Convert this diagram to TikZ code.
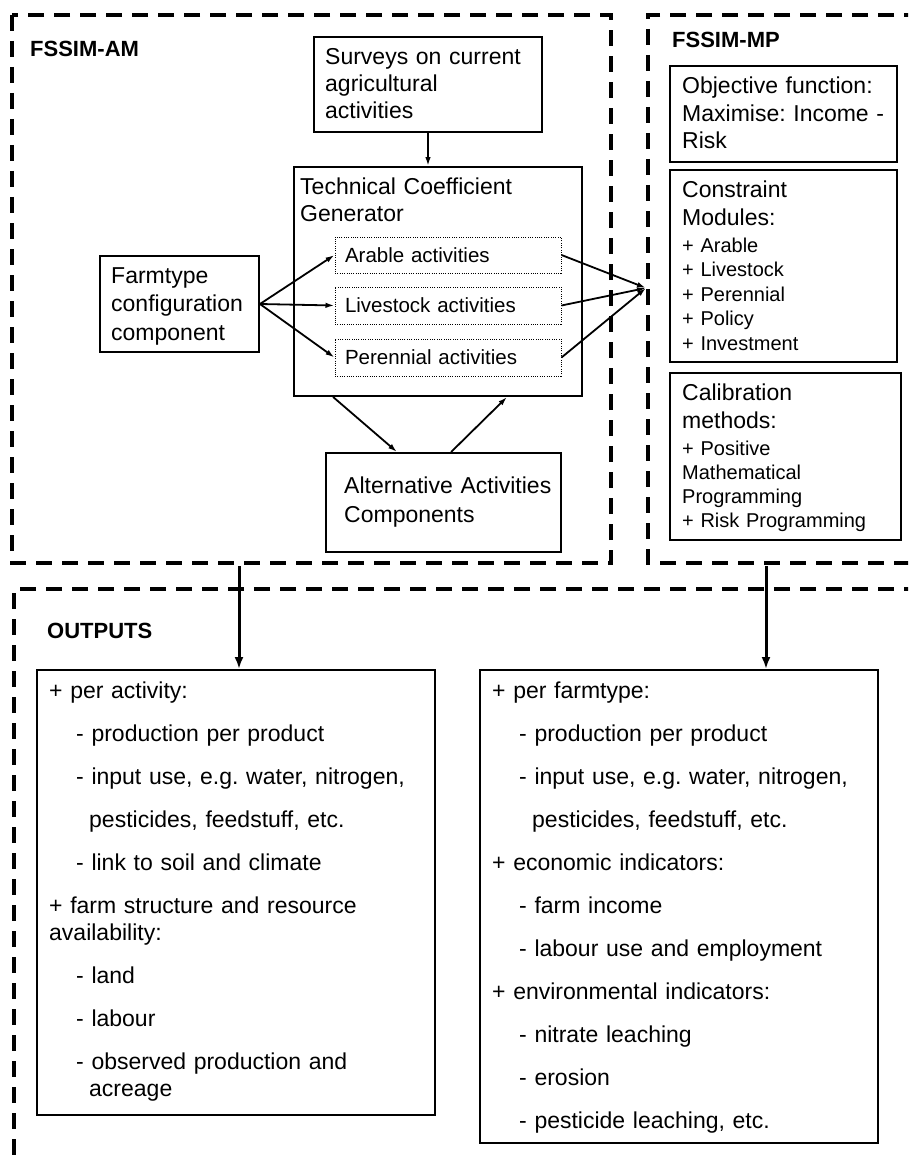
\documentclass[tikz,border=0pt]{standalone}
\usepackage{fontspec}
\setmainfont{Liberation Sans}
\usetikzlibrary{arrows.meta,calc}
\frenchspacing
\begin{document}
\begin{tikzpicture}[x=1pt,y=-1pt,
  frame/.style={line width=3.6pt,dash pattern=on 16pt off 10pt},
  box/.style={draw,line width=1.9pt,inner sep=0pt},
  dotbox/.style={draw,line width=1pt,dash pattern=on 1pt off 1.3pt,inner xsep=10pt,inner ysep=0pt,text width=206pt,align=left,font=\fontsize{20.5}{24}\selectfont},
  big/.style={font=\fontsize{23}{27}\selectfont},
  small/.style={font=\fontsize{20}{24.5}\selectfont},
  ttl/.style={font=\fontsize{22}{26}\selectfont\bfseries},
  txt/.style={anchor=base west,inner sep=0pt,align=left},
  arr/.style={-{Latex[length=9pt,width=5.5pt]},line width=1.8pt},
  bigarr/.style={-{Latex[length=12pt,width=9pt]},line width=3pt}
]
\clip (0,0) rectangle (908,1161);
\fill[white] (0,0) rectangle (908,1161);

% dashed frames
\draw[frame] (12,15) rectangle (611,563);
\draw[frame] (920,15) -- (648,15) -- (648,563) -- (920,563);
\draw[frame] (920,589) -- (14,589) -- (14,1175);

% titles
\node[txt,ttl] (amT) at (30,57) {FSSIM-AM};
\node[txt,ttl] (mpT) at (672,48) {FSSIM-MP};
\node[txt,ttl] (outT) at (47,638) {OUTPUTS};

% FSSIM-AM boxes
\node[box,minimum width=228pt,minimum height=95pt] (surveys) at (428,84.5) {};
\node[txt,big,text width=215pt] (surveysT) at (325,65) {Surveys on current\\agricultural\\activities};

\node[box,minimum width=288pt,minimum height=229pt] (tcg) at (438,281.5) {};
\node[txt,big,text width=280pt] (tcgT) at (300,195) {Technical Coefficient\\Generator};

\node[dotbox,minimum width=226pt,minimum height=36pt] (arable) at (448,255) {Arable activities};
\node[dotbox,minimum width=226pt,minimum height=37pt] (livestock) at (448,305.5) {Livestock activities};
\node[dotbox,minimum width=226pt,minimum height=37pt] (perennial) at (448,357.5) {Perennial activities};

\node[box,minimum width=159pt,minimum height=96pt] (farm) at (179.5,304) {};
\node[txt,font=\fontsize{23}{28.5}\selectfont,text width=150pt] (farmT) at (111,283) {Farmtype\\configuration\\component};

\node[box,minimum width=235pt,minimum height=99pt] (alt) at (443.5,502.5) {};
\node[txt,font=\fontsize{23}{29}\selectfont,text width=225pt] (altT) at (344,493) {Alternative Activities\\Components};

% FSSIM-MP boxes
\node[box,minimum width=227pt,minimum height=96pt] (obj) at (783.5,114) {};
\node[txt,font=\fontsize{23}{27.5}\selectfont,text width=215pt] (objT) at (682,94) {Objective function:\\Maximise: Income -\\Risk};

\node[box,minimum width=227pt,minimum height=192pt] (cons) at (783.5,266) {};
\node[txt,font=\fontsize{23}{28}\selectfont,text width=215pt] (consT) at (682,197) {Constraint\\Modules:};
\node[txt,small,text width=215pt] (consL) at (682,252) {+ Arable\\+ Livestock\\+ Perennial\\+ Policy\\+ Investment};

\node[box,minimum width=231pt,minimum height=167pt] (cal) at (785.5,456.5) {};
\node[txt,font=\fontsize{23}{28}\selectfont,text width=215pt] (calT) at (682,400) {Calibration\\methods:};
\node[txt,font=\fontsize{20}{24.3}\selectfont,text width=215pt] (calL) at (682,455) {+ Positive\\Mathematical\\Programming\\+ Risk Programming};

% outputs boxes
\node[box,minimum width=398pt,minimum height=445pt] (outL) at (236,892.5) {};
\node[txt,big,text width=380pt] (outLT) at (49,698) {+ per activity:\\[16pt]\hspace*{27pt}- production per product\\[16pt]\hspace*{27pt}- input use, e.g. water, nitrogen,\\[16pt]\hspace*{40pt}pesticides, feedstuff, etc.\\[16pt]\hspace*{27pt}- link to soil and climate\\[16pt]+ farm structure and resource\\availability:\\[16pt]\hspace*{27pt}- land\\[16pt]\hspace*{27pt}- labour\\[16pt]\hspace*{27pt}- observed production and\\\hspace*{40pt}acreage};

\node[box,minimum width=398pt,minimum height=473pt] (outR) at (679,906.5) {};
\node[txt,big,text width=380pt] (outRT) at (492,698) {+ per farmtype:\\[16pt]\hspace*{27pt}- production per product\\[16pt]\hspace*{27pt}- input use, e.g. water, nitrogen,\\[16pt]\hspace*{40pt}pesticides, feedstuff, etc.\\[16pt]+ economic indicators:\\[16pt]\hspace*{27pt}- farm income\\[16pt]\hspace*{27pt}- labour use and employment\\[16pt]+ environmental indicators:\\[16pt]\hspace*{27pt}- nitrate leaching\\[16pt]\hspace*{27pt}- erosion\\[16pt]\hspace*{27pt}- pesticide leaching, etc.};

% connectors
\draw[arr] (surveys.south) -- (surveys.south |- tcg.north);
\draw[arr] (farm.east) -- (arable.west);
\draw[arr] (farm.east) -- (livestock.west);
\draw[arr] (farm.east) -- (perennial.west);
\coordinate (mp) at (646,288);
\draw[arr] (arable.east) -- (mp);
\draw[arr] (livestock.east) -- (mp);
\draw[arr] (perennial.east) -- (mp);
\draw[arr] ($(tcg.south west)+(40,0)$) -- ($(alt.north west)+(72,0)$);
\draw[arr] ($(alt.north west)+(126,0)$) -- ($(tcg.south west)+(214,0)$);
\coordinate (amout) at (239,566);
\coordinate (mpout) at (766,566);
\draw[bigarr] (amout) -- (amout |- outL.north);
\draw[bigarr] (mpout) -- (mpout |- outR.north);
\end{tikzpicture}
\end{document}
